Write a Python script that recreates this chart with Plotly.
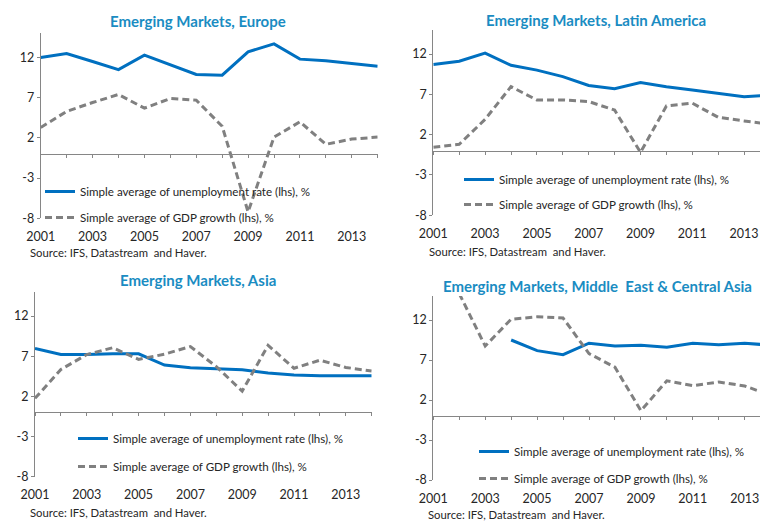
import plotly.graph_objects as go

# ---- data -------------------------------------------------------------
years = list(range(2001, 2015))
tick_years = [2001, 2003, 2005, 2007, 2009, 2011, 2013]
y_ticks = [-8, -3, 2, 7, 12]

titles = [
    "Emerging Markets, Europe",
    "Emerging Markets, Latin America",
    "Emerging Markets, Asia",
    "Emerging Markets, Middle  East & Central Asia",
]
unemp_label = "Simple average of unemployment rate (lhs), %"
gdp_label = "Simple average of GDP growth (lhs), %"
source_text = "Source: IFS, Datastream  and Haver."

europe_unemp = [12.0, 12.5, 11.5, 10.5, 12.3, 11.1, 9.9, 9.8, 12.7, 13.7, 11.8, 11.6, 11.25, 10.9]
europe_gdp = [3.3, 5.3, 6.4, 7.4, 5.7, 6.9, 6.7, 3.45, -7.2, 2.1, 4.0, 1.2, 1.85, 2.1]

latam_unemp = [10.7, 11.1, 12.1, 10.6, 10.0, 9.2, 8.1, 7.7, 8.45, 7.95, 7.55, 7.1, 6.7, 6.9]
latam_gdp = [0.45, 0.8, 3.9, 7.95, 6.3, 6.3, 6.1, 5.05, -0.2, 5.55, 5.9, 4.15, 3.7, 3.3]

asia_unemp = [7.95, 7.2, 7.2, 7.3, 7.3, 5.9, 5.57, 5.45, 5.3, 4.9, 4.65, 4.55, 4.55, 4.55]
asia_gdp = [1.75, 5.35, 7.2, 8.05, 6.6, 7.25, 8.2, 5.7, 2.65, 8.35, 5.5, 6.5, 5.6, 5.15]

mecca_unemp = [None, None, None, 9.5, 8.17, 7.67, 9.1, 8.75, 8.83, 8.6, 9.1, 8.9, 9.1, 8.85]
mecca_gdp = [None, 15.3, 8.75, 12.1, 12.4, 12.25, 7.8, 6.1, 0.67, 4.4, 3.8, 4.25, 3.75, 2.6]

series = [
    (europe_unemp, europe_gdp),
    (latam_unemp, latam_gdp),
    (asia_unemp, asia_gdp),
    (mecca_unemp, mecca_gdp),
]

# ---- layout geometry (pixels) -----------------------------------------
W, H = 760, 521
Y_RANGE = [-8, 15]
# left px, right px, top px, bottom px, last year shown at right edge
panels = [
    dict(x0=40.7, x1=377.7, top=33.4, bottom=218.3, xmax=2014),
    dict(x0=433.3, x1=760, top=29.8, bottom=215.3, xmax=2001 + (760 - 433.3) / 25.9),
    dict(x0=35.0, x1=371.7, top=291.9, bottom=476.7, xmax=2014),
    dict(x0=433.3, x1=760, top=296.0, bottom=480.0, xmax=2001 + (760 - 433.3) / 25.95),
]
title_pos = [(198, 21.2), (596, 20.2), (197.5, 280.2), (597.5, 285.5)]
# legend left/top in px and the gap between its two entries
legend_pos = [(40, 177, 7), (459, 165, 6), (73, 424, 9), (474, 437, 8)]
source_pos = [(28, 253), (426.7, 251.7), (28, 512.3), (426, 514.5)]

BLUE = "#0070C0"
GREY = "#808080"
AXIS = "#868686"
TITLE_C = "#1A8CC2"
TEXT_C = "#262626"
FONT = "Lato"


def px_x(v):
    return v / W


def px_y(v):
    return 1 - v / H


fig = go.Figure()
annotations = []

for i, (p, (unemp, gdp)) in enumerate(zip(panels, series)):
    n = i + 1
    xa = "x" if n == 1 else f"x{n}"
    ya = "y" if n == 1 else f"y{n}"
    leg = "legend" if n == 1 else f"legend{n}"
    fig.add_trace(go.Scatter(
        x=years, y=unemp, mode="lines", name=unemp_label,
        line=dict(color=BLUE, width=3), xaxis=xa, yaxis=ya,
        legend=leg, legendgroup=f"u{n}", connectgaps=False,
    ))
    fig.add_trace(go.Scatter(
        x=years, y=gdp, mode="lines", name=gdp_label,
        line=dict(color=GREY, width=3, dash="7px,4px"), xaxis=xa, yaxis=ya,
        legend=leg, legendgroup=f"g{n}", connectgaps=False,
    ))

    xdom = [px_x(p["x0"]), px_x(p["x1"])]
    ydom = [px_y(p["bottom"]), px_y(p["top"])]
    xr = [2001, p["xmax"]]

    xkey = "xaxis" if n == 1 else f"xaxis{n}"
    ykey = "yaxis" if n == 1 else f"yaxis{n}"
    fig.update_layout({
        xkey: dict(
            domain=xdom, range=xr, anchor=ya, showgrid=False, zeroline=False,
            showline=False, ticks="", tickvals=tick_years,
            ticktext=[str(t) for t in tick_years],
            tickfont=dict(family=FONT, size=12.5, color=TEXT_C),
            ticklabelstandoff=9, ticklabeloverflow="allow", automargin=False,
        ),
        ykey: dict(
            domain=ydom, range=Y_RANGE, anchor=xa, showgrid=False,
            zeroline=False, showline=True, linecolor=AXIS, linewidth=1,
            ticks="outside", ticklen=3, tickcolor=AXIS, tickvals=y_ticks,
            ticktext=[str(v) for v in y_ticks], automargin=False,
            tickfont=dict(family=FONT, size=12.5, color=TEXT_C),
        ),
    })

    # horizontal axis line at zero, with year tick marks
    zero_pos = ydom[0] + (0 - Y_RANGE[0]) / (Y_RANGE[1] - Y_RANGE[0]) * (ydom[1] - ydom[0])
    zkey = f"xaxis{n + 4}"
    fig.update_layout({
        zkey: dict(
            domain=xdom, range=xr, overlaying=xa, anchor="free",
            position=zero_pos, showgrid=False, zeroline=False,
            showline=True, linecolor=AXIS, linewidth=1,
            ticks="outside", ticklen=3, tickcolor=AXIS,
            tickvals=years, showticklabels=False, side="bottom",
            automargin=False,
        )
    })

    lx, ly, gap = legend_pos[i]
    fig.update_layout({
        leg: dict(
            x=px_x(lx), y=px_y(ly), xanchor="left", yanchor="top",
            bgcolor="rgba(0,0,0,0)", borderwidth=0, tracegroupgap=gap,
            font=dict(family=FONT, size=11.6, color=TEXT_C),
        )
    })

    tx, ty = title_pos[i]
    annotations.append(dict(
        text=f"<b>{titles[i]}</b>", x=px_x(tx), y=px_y(ty),
        xref="paper", yref="paper", xanchor="center", yanchor="middle",
        showarrow=False, font=dict(family=FONT, size=15, color=TITLE_C),
    ))
    sx, sy = source_pos[i]
    annotations.append(dict(
        text=source_text, x=px_x(sx), y=px_y(sy),
        xref="paper", yref="paper", xanchor="left", yanchor="middle",
        showarrow=False, font=dict(family=FONT, size=11.3, color=TEXT_C),
    ))

# a placeholder trace on each zero axis so it renders
for n in range(1, 5):
    fig.add_trace(go.Scatter(
        x=[], y=[], xaxis=f"x{n + 4}", yaxis="y" if n == 1 else f"y{n}",
        showlegend=False, hoverinfo="skip",
    ))

fig.update_layout(
    width=W, height=H, margin=dict(l=0, r=0, t=0, b=0, autoexpand=False),
    paper_bgcolor="white", plot_bgcolor="white",
    annotations=annotations, showlegend=True,
)

fig.write_html("out.html")
